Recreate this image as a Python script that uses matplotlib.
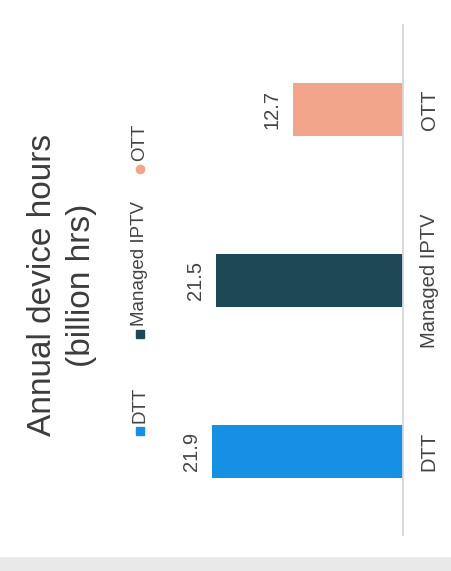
import matplotlib.pyplot as plt
from matplotlib.lines import Line2D
from matplotlib.patches import Rectangle

plt.rcParams['font.family'] = ['Liberation Sans', 'DejaVu Sans']

# annual device hours, billion hrs
categories = ['DTT', 'Managed IPTV', 'OTT']
hours = [21.9, 21.5, 12.7]
colors = ['#1590e2', '#1f4857', '#f2a58a']
legend_markers = ['s', 's', 'o']

text_color = '#444444'

fig = plt.figure(figsize=(4.51, 5.71), dpi=100)
W, H = 451, 571

# axes in pixel terms: zero line on the right, bars grow to the left
ax = fig.add_axes([150 / W, 36 / H, 253 / W, 510 / H])
pos = list(range(len(categories)))
ax.barh(pos, hours, height=0.31, color=colors)
ax.set_xlim(253 / 8.7, 0)
ax.set_ylim(-0.488, 2.494)

for s in ['left', 'top', 'bottom']:
    ax.spines[s].set_visible(False)
ax.spines['right'].set_color('#d8d8d8')
ax.spines['right'].set_linewidth(1.3)
ax.set_xticks([])
ax.yaxis.tick_right()
ax.set_yticks(pos)
ax.set_yticklabels(categories, rotation=90, va='center', ha='left',
                   fontsize=14.5, color=text_color)
ax.tick_params(axis='y', length=0, pad=12)

for p, v in zip(pos, hours):
    ax.annotate(f'{v}', (v, p), xytext=(-15, 0), textcoords='offset points',
                rotation=90, ha='center', va='center', fontsize=14.5,
                color=text_color)

# title, turned on its side
fig.text(62 / W, 286 / H, 'Annual device hours\n(billion hrs)', rotation=90,
         ha='center', va='center', multialignment='center', fontsize=24,
         linespacing=1.35, color='#3c3c3c')

# hand-built legend, since it runs upwards as well
leg_x = 140 / W
marker_y = [140, 237, 402]
for name, c, m, y in zip(categories, colors, legend_markers, marker_y):
    fig.add_artist(Line2D([leg_x], [y / H], marker=m, markersize=6,
                          color=c, linestyle='none',
                          transform=fig.transFigure))
    fig.text(leg_x, (y + 8) / H, name, rotation=90, ha='center', va='bottom',
             fontsize=13.5, color=text_color)

# grey strip along the bottom edge
fig.add_artist(Rectangle((0, 0), 1, 14 / H, transform=fig.transFigure,
                         facecolor='#e9e9e9', edgecolor='none'))

fig.savefig('out.png', dpi=100)
